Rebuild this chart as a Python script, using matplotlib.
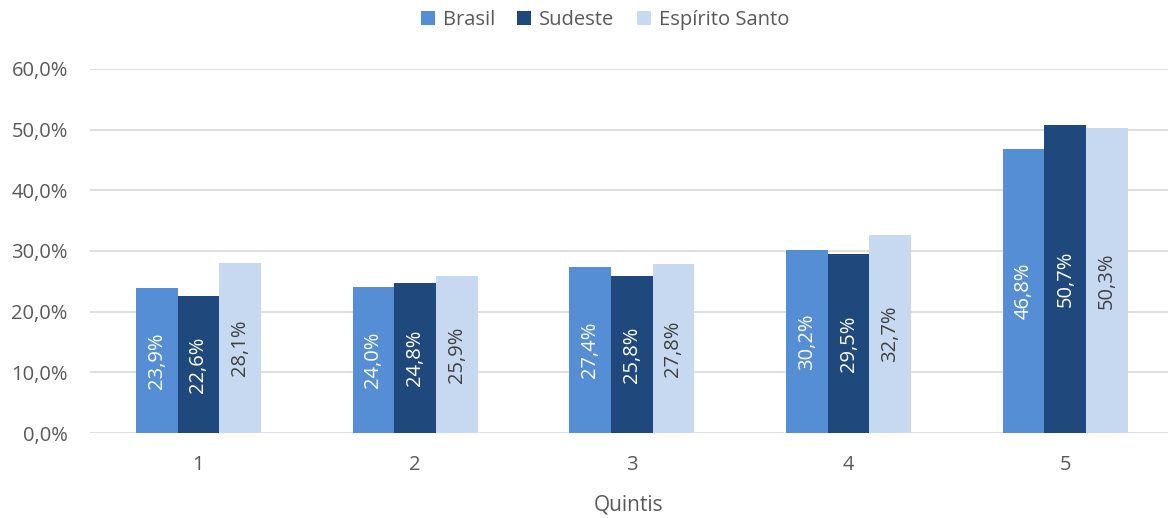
import matplotlib
matplotlib.use("Agg")
import matplotlib.pyplot as plt
import numpy as np

categories = ["1", "2", "3", "4", "5"]
brasil = [23.9, 24.0, 27.4, 30.2, 46.8]
sudeste = [22.6, 24.8, 25.8, 29.5, 50.7]
es = [28.1, 25.9, 27.8, 32.7, 50.3]
series_names = ["Brasil", "Sudeste", "Espírito Santo"]
yticks = [0, 10, 20, 30, 40, 50, 60]

plt.rcParams['font.family'] = ['Open Sans', 'DejaVu Sans']
gray = "#595959"
colors = ["#558ED5", "#1F497D", "#C6D9F1"]
label_colors = ["white", "white", "#404040"]

fig = plt.figure(figsize=(11.68, 5.18), dpi=100)
ax = fig.add_axes([90 / 1168, 0.164, 1078 / 1168, 0.703])

x = np.arange(len(categories))
w = 0.192
for i, (vals, name) in enumerate(zip([brasil, sudeste, es], series_names)):
    pos = x + (i - 1) * w
    ax.bar(pos, vals, w, color=colors[i], label=name, zorder=3)
    for p, v in zip(pos, vals):
        ax.text(p, v / 2, f"{v:.1f}%".replace(".", ","), rotation=90,
                ha="center", va="center", color=label_colors[i], fontsize=14.5, zorder=4)

ax.set_xlim(-0.5, 4.474)
ax.set_ylim(0, 60)
ax.set_yticks(yticks)
ax.set_yticklabels([f"{t:.1f}%".replace(".", ",") for t in yticks])
ax.set_xticks(x)
ax.set_xticklabels(categories)
ax.tick_params(axis="both", length=0, colors=gray, labelsize=14.5)
ax.tick_params(axis="x", pad=16)
ax.tick_params(axis="y", pad=16)
ax.grid(axis="y", color="#D9D9D9", lw=1.2, zorder=0)
for s in ax.spines.values():
    s.set_visible(False)
ax.set_xlabel("Quintis", color=gray, fontsize=15, labelpad=14)

leg = fig.legend(loc="upper center", bbox_to_anchor=(0.518, 1.015), ncol=3, frameon=False,
                 fontsize=14.5, handlelength=0.7, handleheight=0.7, columnspacing=1.1,
                 handletextpad=0.4)
for t in leg.get_texts():
    t.set_color(gray)

fig.savefig("out.png", dpi=100)
